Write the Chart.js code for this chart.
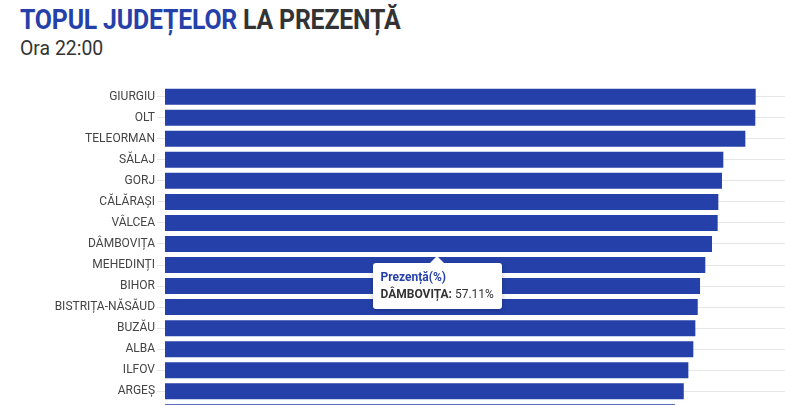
<!DOCTYPE html>
<html>
<head>
<meta charset="utf-8">
<script src="https://cdn.jsdelivr.net/npm/chart.js@4"></script>
<style>
  html, body { margin: 0; padding: 0; background: #fff; overflow: hidden; }
  body { width: 785px; height: 405px; position: relative; font-family: Roboto, sans-serif; }
  #title { position: absolute; left: 20px; top: 4px; font-size: 27px; font-weight: 700; color: #333;
           transform: scaleX(0.92); transform-origin: left top; white-space: nowrap; letter-spacing: -0.2px; }
  #title .blue { color: #2541a9; }
  #sub { position: absolute; left: 20px; top: 36px; font-size: 20px; color: #333;
         transform: scaleX(0.97); transform-origin: left top; }
  #wrap { position: absolute; left: 0; top: 77px; width: 785px; height: 355px; }
  #tip { position: absolute; background: #fff; border-radius: 3px; padding: 6px 8px 6px 8px;
         box-shadow: 0 1px 5px rgba(0,0,0,0.25); font-size: 12px; line-height: 17px; color: #333;
         white-space: nowrap; display: none; }
  #tip::before { content: ""; position: absolute; left: 50%; top: -7px; margin-left: -7px;
         border-left: 7px solid transparent; border-right: 7px solid transparent; border-bottom: 7px solid #fff; }
  #tip .t { color: #2541a9; font-weight: 700; }
  #tip b { font-weight: 700; }
</style>
</head>
<body>
<div id="title"><span class="blue">TOPUL JUDEȚELOR</span> LA PREZENȚĂ</div>
<div id="sub">Ora 22:00</div>
<div id="wrap"><canvas id="chart"></canvas></div>
<div id="tip"></div>
<script>
// judete (al 16-lea nu se vede in imagine, doar marginea barei)
const judete = ["GIURGIU", "OLT", "TELEORMAN", "SĂLAJ", "GORJ", "CĂLĂRAȘI", "VÂLCEA", "DÂMBOVIȚA",
  "MEHEDINȚI", "BIHOR", "BISTRIȚA-NĂSĂUD", "BUZĂU", "ALBA", "ILFOV", "ARGEȘ", ""];
const prezenta = [61.67, 61.63, 60.59, 58.29, 58.15, 57.77, 57.70, 57.11,
  56.41, 55.86, 55.62, 55.37, 55.16, 54.64, 54.16, 53.25];
const serieNume = "Prezență(%)";
const judetActiv = "DÂMBOVIȚA";

const tip = document.getElementById("tip");

Chart.Tooltip.positioners.mouse = function (elements, eventPosition) {
  return eventPosition;
};

function tooltipExtern(context) {
  const t = context.tooltip;
  if (t.opacity === 0 || !t.dataPoints || !t.dataPoints.length) {
    tip.style.display = "none";
    return;
  }
  const p = t.dataPoints[0];
  tip.innerHTML = '<div class="t">' + p.dataset.label + '</div>' +
    '<div><b>' + p.label + ':</b> ' + p.raw.toFixed(2) + '%</div>';
  tip.style.display = "block";
  const wrap = document.getElementById("wrap");
  tip.style.left = (wrap.offsetLeft + t.caretX - tip.offsetWidth / 2) + "px";
  tip.style.top = (wrap.offsetTop + t.caretY + 7) + "px";
}

const chart = new Chart(document.getElementById("chart"), {
  type: "bar",
  data: {
    labels: judete,
    datasets: [{
      label: serieNume,
      data: prezenta,
      backgroundColor: "#2541a9",
      hoverBackgroundColor: "#2541a9",
      barPercentage: 0.76,
      categoryPercentage: 1
    }]
  },
  options: {
    indexAxis: "y",
    responsive: true,
    maintainAspectRatio: false,
    animation: false,
    layout: { padding: 0 },
    plugins: {
      legend: { display: false },
      tooltip: { enabled: false, position: "mouse", external: tooltipExtern }
    },
    scales: {
      x: { display: false, min: 0, max: 64.73 },
      y: {
        grid: { color: "#e6e6e6", tickLength: 8, drawOnChartArea: true, offset: false },
        border: { display: false },
        ticks: { color: "#444", font: { family: "Roboto", size: 12 }, padding: 2 },
        afterFit: (scale) => { scale.width = 165; }
      }
    }
  }
});

// tooltip activ pe Dambovita, ca in imagine
const idx = judete.indexOf(judetActiv);
const bar = chart.getDatasetMeta(0).data[idx];
chart.tooltip.setActiveElements([{ datasetIndex: 0, index: idx }], { x: 437, y: bar.y + bar.height / 2 + 4 });
chart.update();
</script>
</body>
</html>
